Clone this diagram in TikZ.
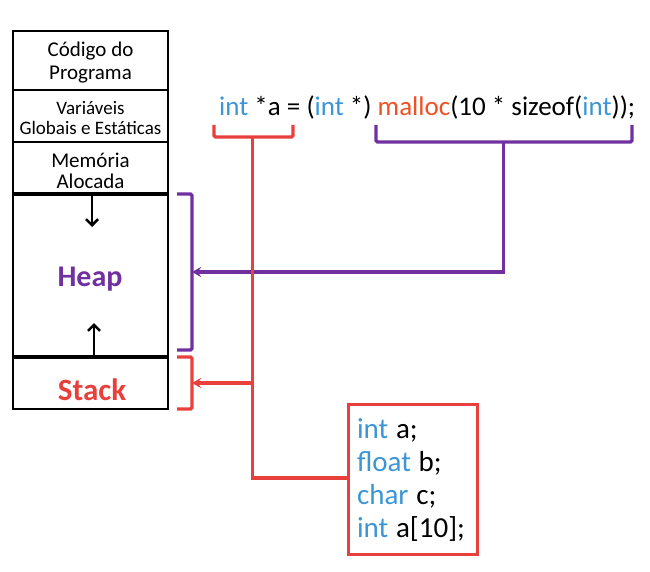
\documentclass[tikz,border=0pt]{standalone}
\usepackage{fontspec}
\setmainfont{Carlito}
\usetikzlibrary{arrows.meta}
\definecolor{kwblue}{RGB}{59,149,214}
\definecolor{mred}{RGB}{232,64,60}
\definecolor{mpurple}{RGB}{112,48,160}
\definecolor{morange}{RGB}{240,80,34}
\newcommand{\kw}[1]{\textcolor{kwblue}{#1}}
\begin{document}
\begin{tikzpicture}[x=1pt,y=-1pt,
  membox/.style={draw=black,line width=1.4pt},
  thickdiv/.style={line width=3.2pt},
  growarrow/.style={line width=2.6pt,-{Straight Barb[length=6pt,width=12pt,line width=2.6pt]}},
  brk/.style={line width=3.2pt,rounded corners=1.5pt},
  ptr/.style={line width=3.2pt,-{Stealth[length=9pt,width=10pt]}},
  lbl/.style={align=center,inner sep=0pt}]
\useasboundingbox (0,0) rectangle (650,572);
% memory column
\draw[membox] (13,31) rectangle (168,409);
\draw[line width=2pt] (13,90.5) -- (168,90.5);
\draw[line width=2pt] (13,142.5) -- (168,142.5);
\draw[thickdiv] (13,194) -- (168,194);
\draw[thickdiv] (13,357) -- (168,357);
\node[lbl,font=\fontsize{21}{23}\selectfont] (codigo) at (90.5,63) {Código do\\Programa};
\node[lbl,font=\fontsize{19}{20}\selectfont] (globais) at (90.5,118) {Variáveis\\Globais e Estáticas};
\node[lbl,font=\fontsize{21}{21}\selectfont] (alocada) at (90.5,171) {Memória\\Alocada};
\node[lbl,font=\bfseries\fontsize{30}{36}\selectfont,text=mpurple] (heap) at (90,279) {Heap};
\node[lbl,font=\bfseries\fontsize{31}{36}\selectfont,text=mred] (stack) at (92,390) {Stack};
\coordinate (hd0) at (92,194); \coordinate (hd1) at (92,227);
\coordinate (hu0) at (94,357); \coordinate (hu1) at (94,323);
\draw[growarrow] (hd0) -- (hd1);
\draw[growarrow] (hu0) -- (hu1);
% code line
\node[anchor=base west,inner sep=0pt,font=\fontsize{27}{32}\selectfont] (code) at (219,116)
  {\kw{int} *a = (\kw{int} *) \textcolor{morange}{malloc}(10 * sizeof(\kw{int}));};
% brackets under code
\coordinate (rb1) at (214,125); \coordinate (rb2) at (293,125);
\coordinate (rbs) at (252.5,137);
\draw[brk,mred] (rb1) |- (rbs) -| (rb2);
\coordinate (pb1) at (376,125); \coordinate (pb2) at (632,125);
\coordinate (pbs) at (503.5,142);
\draw[brk,mpurple] (pb1) |- (pbs) -| (pb2);
% brackets beside memory
\coordinate (hb1) at (177,194); \coordinate (hb2) at (177,350);
\coordinate (hbm) at (192,272);
\draw[brk,mpurple] (hb1) -| (hbm) |- (hb2);
\coordinate (sb1) at (177,357); \coordinate (sb2) at (177,409);
\coordinate (sbm) at (192,383);
\draw[brk,mred] (sb1) -| (sbm) |- (sb2);
% local variables box
\node[draw=mred,line width=3.2pt,anchor=north west,minimum width=129pt,minimum height=150pt,
  text width=112pt,align=left,inner xsep=8pt,font=\fontsize{29}{33}\selectfont] (vars) at (347,403)
  {\kw{int}\hspace{-2pt} a;\\\kw{float}\hspace{-2pt} b;\\\kw{char}\hspace{-2pt} c;\\\kw{int}\hspace{-2pt} a[10];};
% connectors
\draw[ptr,mpurple] (pbs) |- (hbm);
\coordinate (rturn) at (252.5,478);
\draw[line width=3.2pt,mred] (rbs) -- (rturn) -- (rturn -| vars.west);
\coordinate (rj) at (252.5,383);
\draw[ptr,mred] (rj) -- (sbm);
\end{tikzpicture}
\end{document}
